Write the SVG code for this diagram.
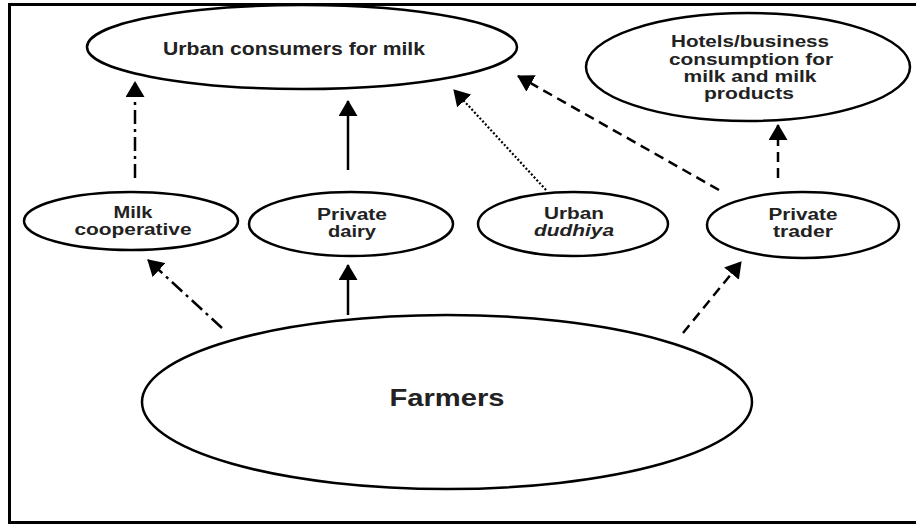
<svg xmlns="http://www.w3.org/2000/svg" width="916" height="527" viewBox="0 0 916 527">
<style>
.node{fill:#fff;stroke:#000;stroke-width:2.5}
.lbl{font-family:"Liberation Sans",Arial,sans-serif;font-weight:bold;fill:#222;text-anchor:middle}
.s16{font-size:16px}
.conn{fill:none;stroke:#000;stroke-width:2.5}
.solid{}
.dashdot{stroke-dasharray:14 5 3 5}
.dashed{stroke-dasharray:10 6}
.dotted{stroke-dasharray:2 2;stroke-width:2.2}
</style>
<defs>
<marker id="ah" markerUnits="userSpaceOnUse" markerWidth="16" markerHeight="19" refX="15" refY="9.5" orient="auto">
<path d="M0,0 L16,9.5 L0,19 z" fill="#000"/>
</marker>
</defs>
<rect x="0" y="0" width="916" height="527" fill="#fff"/>
<rect x="9.5" y="4.5" width="930" height="518" fill="none" stroke="#000" stroke-width="3"/>

<g id="urban-consumers">
<ellipse class="node" cx="302" cy="47" rx="215" ry="42"/>
<text class="lbl" x="294" y="55" font-size="18" textLength="262" lengthAdjust="spacingAndGlyphs">Urban consumers for milk</text>
</g>
<g id="hotels">
<ellipse class="node" cx="748" cy="67" rx="162" ry="54"/>
<text class="lbl s16" x="750" y="47" textLength="158" lengthAdjust="spacingAndGlyphs">Hotels/business</text>
<text class="lbl s16" x="751" y="65" textLength="164" lengthAdjust="spacingAndGlyphs">consumption for</text>
<text class="lbl s16" x="750" y="82" textLength="133" lengthAdjust="spacingAndGlyphs">milk and milk</text>
<text class="lbl s16" x="749" y="99" textLength="90" lengthAdjust="spacingAndGlyphs">products</text>
</g>
<g id="milk-cooperative">
<ellipse class="node" cx="131" cy="221" rx="107" ry="29"/>
<text class="lbl s16" x="133" y="218" textLength="39" lengthAdjust="spacingAndGlyphs">Milk</text>
<text class="lbl s16" x="133" y="235" textLength="117" lengthAdjust="spacingAndGlyphs">cooperative</text>
</g>
<g id="private-dairy">
<ellipse class="node" cx="351" cy="224" rx="102" ry="32"/>
<text class="lbl s16" x="352" y="220" textLength="70" lengthAdjust="spacingAndGlyphs">Private</text>
<text class="lbl s16" x="352" y="237" textLength="48" lengthAdjust="spacingAndGlyphs">dairy</text>
</g>
<g id="urban-dudhiya">
<ellipse class="node" cx="573" cy="224" rx="95" ry="32"/>
<text class="lbl s16" x="574" y="219" textLength="60" lengthAdjust="spacingAndGlyphs">Urban</text>
<text class="lbl s16" x="574" y="236" font-style="italic" textLength="80" lengthAdjust="spacingAndGlyphs">dudhiya</text>
</g>
<g id="private-trader">
<ellipse class="node" cx="803" cy="225" rx="96" ry="33"/>
<text class="lbl s16" x="803" y="220" textLength="69" lengthAdjust="spacingAndGlyphs">Private</text>
<text class="lbl s16" x="803" y="237" textLength="60" lengthAdjust="spacingAndGlyphs">trader</text>
</g>
<g id="farmers">
<ellipse class="node" cx="447" cy="402" rx="305" ry="87"/>
<text class="lbl" x="447" y="406" font-size="24" textLength="115" lengthAdjust="spacingAndGlyphs">Farmers</text>
</g>

<g id="connectors">
<line class="conn dashdot" x1="135" y1="178" x2="135" y2="82" marker-end="url(#ah)"/>
<line class="conn solid" x1="348" y1="170" x2="348" y2="101" marker-end="url(#ah)"/>
<line class="conn dotted" x1="546" y1="190" x2="454" y2="90" marker-end="url(#ah)"/>
<line class="conn dashed" x1="719" y1="190" x2="518" y2="76" marker-end="url(#ah)"/>
<line class="conn dashed" x1="778" y1="178" x2="778" y2="125" marker-end="url(#ah)"/>
<line class="conn dashdot" x1="222" y1="328" x2="148" y2="260" marker-end="url(#ah)"/>
<line class="conn solid" x1="348" y1="315" x2="348" y2="265" marker-end="url(#ah)"/>
<line class="conn dashed" x1="683" y1="333" x2="741" y2="262" marker-end="url(#ah)"/>
</g>
</svg>
